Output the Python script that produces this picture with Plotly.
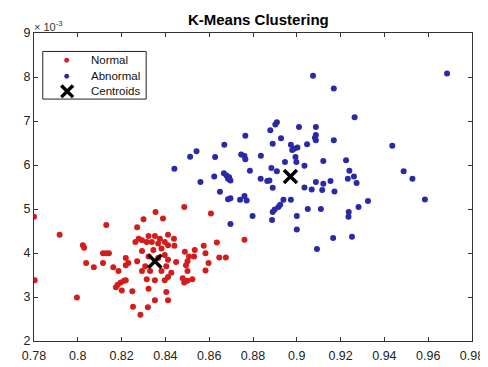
import plotly.graph_objects as go

# Values of y are given in units of 1e-3 (axis shows "x10^-3")
normal_x = [0.7800, 0.7917, 0.8130, 0.8023, 0.8029, 0.8115, 0.8130, 0.8142, 0.8038, 0.8073,
            0.8115, 0.8162, 0.8186, 0.8219, 0.8219, 0.8231, 0.7803, 0.7996, 0.8174, 0.8182,
            0.8196, 0.8211, 0.8219, 0.8201, 0.8249, 0.8252,
            0.8271, 0.8300, 0.8355, 0.8389, 0.8486, 0.8608,
            0.8278, 0.8323, 0.8352, 0.8375, 0.8412, 0.8439, 0.8397, 0.8367, 0.8338, 0.8315, 0.8293, 0.8263,
            0.8293, 0.8345, 0.8382, 0.8412, 0.8441, 0.8575, 0.8635, 0.8534, 0.8489, 0.8583,
            0.8323, 0.8397, 0.8367, 0.8412, 0.8449, 0.8508, 0.8531, 0.8501, 0.8597, 0.8646, 0.8676, 0.8271,
            0.8308, 0.8404, 0.8382, 0.8427, 0.8494, 0.8501, 0.8583, 0.8293, 0.8330,
            0.8315, 0.8352, 0.8397, 0.8412, 0.8486, 0.8523, 0.8501, 0.8479, 0.8323,
            0.8404, 0.8352, 0.8412, 0.8320, 0.8286, 0.8761]
normal_y = [4.826, 4.414, 4.634, 4.178, 4.119, 3.994, 3.994, 3.994, 3.773, 3.678,
            3.773, 3.678, 3.589, 3.884, 3.722, 3.773, 3.383, 2.986, 3.220, 3.280,
            3.330, 3.370, 3.380, 3.148, 3.133, 2.780,
            4.583, 4.767, 4.929, 4.782, 5.046, 4.899,
            4.325, 4.384, 4.384, 4.325, 4.414, 4.325, 4.252, 4.215, 4.252, 4.252, 4.288, 4.252,
            4.046, 4.068, 4.105, 4.178, 4.163, 4.163, 4.237, 4.068, 4.031, 3.994,
            3.920, 3.957, 3.884, 3.847, 3.795, 3.920, 3.920, 3.810, 3.773, 3.898, 3.898, 3.810,
            3.700, 3.700, 3.589, 3.553, 3.722, 3.589, 3.604, 3.589, 3.589,
            3.405, 3.383, 3.383, 3.457, 3.332, 3.405, 3.369, 3.428, 3.185,
            3.111, 2.927, 2.927, 2.765, 2.596, 4.300]

abnormal_x = [0.9074, 0.9169, 0.9686, 0.9264, 0.8909, 0.8902, 0.8879, 0.9010, 0.9087, 0.9087,
              0.9083, 0.9087, 0.8928, 0.8890, 0.8973, 0.8988, 0.9003, 0.8979, 0.9047, 0.9169,
              0.9436, 0.8836, 0.8994, 0.8946, 0.8998, 0.9121, 0.9225, 0.9035, 0.8884, 0.8909,
              0.9240, 0.9488, 0.8835, 0.8865, 0.8875, 0.9261, 0.9233, 0.9273, 0.9528, 0.9087,
              0.9121, 0.9154, 0.8890, 0.9035, 0.9068, 0.9116, 0.9172, 0.8939, 0.8924, 0.8916,
              0.8899, 0.8890, 0.8973, 0.9325, 0.9585, 0.8887, 0.9000, 0.9050, 0.9110, 0.9237,
              0.9236, 0.9282, 0.9000, 0.9166, 0.9252, 0.9092,
              0.8765, 0.8669, 0.8542, 0.8513, 0.8627, 0.8746, 0.8761, 0.8765, 0.8441, 0.8623,
              0.8667, 0.8679, 0.8691, 0.8697, 0.8686, 0.8786, 0.8560, 0.8649, 0.8686, 0.8697,
              0.8741, 0.8761, 0.8771, 0.8798, 0.8697]
abnormal_y = [8.027, 7.740, 8.078, 7.085, 6.974, 6.923, 6.790, 6.864, 6.864, 6.680,
              6.621, 6.562, 6.606, 6.481, 6.459, 6.371, 6.400, 6.341, 6.474, 6.562,
              6.437, 6.209, 6.180, 6.069, 6.069, 6.091, 6.106, 5.981, 5.930, 5.856,
              5.871, 5.856, 5.687, 5.635, 5.650, 5.738, 5.687, 5.591, 5.687, 5.613,
              5.576, 5.635, 5.481, 5.488, 5.444, 5.429, 5.400, 5.208, 5.098, 5.046,
              4.988, 4.929, 5.208, 5.179, 5.216, 4.752, 4.840, 5.002, 5.002, 4.929,
              4.826, 5.046, 4.532, 4.340, 4.369, 4.090,
              6.665, 6.459, 6.312, 6.187, 6.180, 6.239, 6.202, 6.128, 5.915, 5.738,
              5.812, 5.760, 5.723, 5.650, 5.687, 5.871, 5.613, 5.392, 5.223, 5.245,
              5.208, 5.297, 5.194, 4.840, 4.657]

centroid_x = [0.8352, 0.8971]
centroid_y = [3.81, 5.74]

x_ticks = [0.78, 0.80, 0.82, 0.84, 0.86, 0.88, 0.90, 0.92, 0.94, 0.96, 0.98]
x_ticktext = ["0.78", "0.8", "0.82", "0.84", "0.86", "0.88", "0.9", "0.92", "0.94", "0.96", "0.98"]
y_ticks = [2, 3, 4, 5, 6, 7, 8, 9]
y_ticktext = ["2", "3", "4", "5", "6", "7", "8", "9"]

legend_labels = ["Normal", "Abnormal", "Centroids"]

scale = 1e-3
RED = "#d41c1c"
BLUE = "#2a2aa8"
FONT = "Liberation Sans, Arial, sans-serif"

fig = go.Figure()
fig.add_trace(go.Scatter(
    x=normal_x, y=[v * scale for v in normal_y], mode="markers", name=legend_labels[0],
    marker=dict(color=RED, size=6, line=dict(width=0)), showlegend=False))
fig.add_trace(go.Scatter(
    x=abnormal_x, y=[v * scale for v in abnormal_y], mode="markers", name=legend_labels[1],
    marker=dict(color=BLUE, size=6, line=dict(width=0)), showlegend=False))
fig.add_trace(go.Scatter(
    x=centroid_x, y=[v * scale for v in centroid_y], mode="markers", name=legend_labels[2],
    marker=dict(symbol="x-thin-open", color="black", size=13, line=dict(width=3.5, color="black")),
    showlegend=False))

axis_common = dict(
    showgrid=False, zeroline=False, showline=True, linecolor="#333333", linewidth=1,
    mirror="ticks", ticks="inside", ticklen=4, tickcolor="#333333",
    tickfont=dict(family=FONT, size=12.5, color="#222222"),
)

fig.update_layout(
    width=488, height=367,
    margin=dict(l=26, r=13, t=25, b=25),
    paper_bgcolor="white", plot_bgcolor="white",
    title=dict(text="<b>K-Means Clustering</b>", x=0.513, xanchor="center", y=0.983, yanchor="top",
               font=dict(family=FONT, size=15, color="black")),
    xaxis=dict(range=[0.78, 0.98], tickvals=x_ticks, ticktext=x_ticktext,
               ticklabelstandoff=3, **axis_common),
    yaxis=dict(range=[2 * scale, 9 * scale], tickvals=[v * scale for v in y_ticks],
               ticktext=y_ticktext, **axis_common),
    showlegend=False,
)

# exponent label
fig.add_annotation(
    xref="paper", yref="paper", x=0.0, y=1.0, xanchor="left", yanchor="bottom",
    text="\u00d7 10<sup>-3</sup>", showarrow=False, xshift=-2, yshift=-2,
    font=dict(family=FONT, size=11, color="#333333"))

# legend box (drawn in pixel-like paper coordinates)
W, H = 449.0, 317.0  # plot area size in px
def px(x):
    return (x - 26) / W
def py(y):
    return 1 - (y - 25) / H

fig.add_shape(type="rect", xref="paper", yref="paper",
              x0=px(35), x1=px(141), y0=py(93), y1=py(44),
              line=dict(color="#222222", width=1), fillcolor="white", layer="above")
rows = [53, 69.5, 85]
# dots
for yy, col in zip(rows[:2], [RED, BLUE]):
    fig.add_shape(type="circle", xref="paper", yref="paper",
                  x0=px(57), x1=px(62), y0=py(yy + 2.5), y1=py(yy - 2.5),
                  line=dict(width=0), fillcolor=col, layer="above")
# X symbol
fig.add_shape(type="line", xref="paper", yref="paper", x0=px(54), x1=px(66),
              y0=py(rows[2] + 6), y1=py(rows[2] - 6), line=dict(color="black", width=3.5), layer="above")
fig.add_shape(type="line", xref="paper", yref="paper", x0=px(54), x1=px(66),
              y0=py(rows[2] - 6), y1=py(rows[2] + 6), line=dict(color="black", width=3.5), layer="above")
for yy, lab in zip(rows, legend_labels):
    fig.add_annotation(xref="paper", yref="paper", x=px(82), y=py(yy), xanchor="left",
                       yanchor="middle", text=lab, showarrow=False,
                       font=dict(family=FONT, size=11.5, color="#111111"))

fig.write_html("out.html")
